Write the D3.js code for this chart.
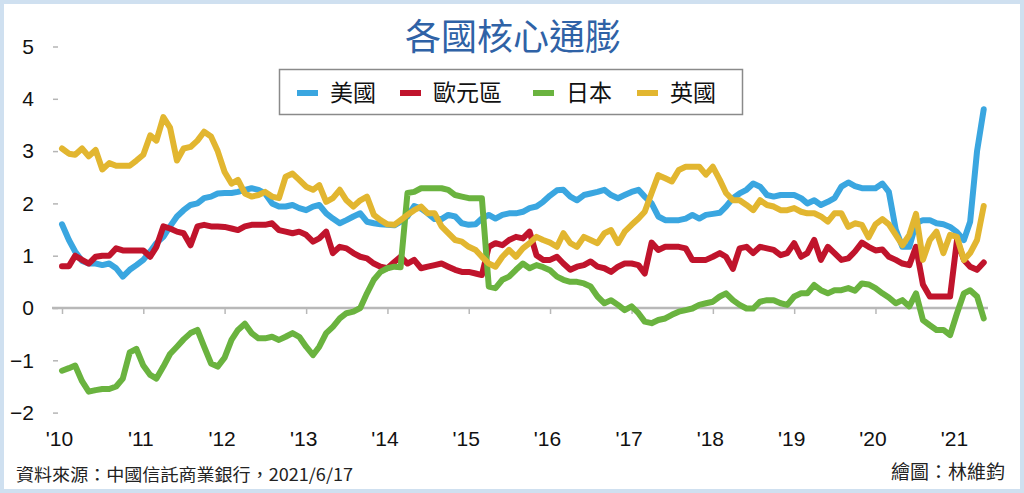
<!DOCTYPE html>
<html>
<head>
<meta charset="utf-8">
<script src="https://cdn.jsdelivr.net/npm/d3@7"></script>
<style>
  html, body { margin: 0; padding: 0; background: #fff; }
  svg { display: block; }
</style>
</head>
<body>
<svg id="chart"></svg>
<script>
// 畫布大小
var width = 1024;
var height = 493;

// 月份：2010/1 ~ 2021/5
var startMonth = new Date(2010, 0, 1);
var endMonth = new Date(2021, 5, 1);
var yearTicks = [2010, 2011, 2012, 2013, 2014, 2015, 2016, 2017, 2018, 2019, 2020, 2021];
var yTicks = [-2, -1, 0, 1, 2, 3, 4, 5];

var seriesNames = ["美國", "歐元區", "日本", "英國"];
var seriesColors = ["#3aa6e0", "#c0142c", "#6ab33f", "#e2b630"];

// 各國核心通膨 (%), 每月一筆
var usa = [
  1.6, 1.3, 1.08, 0.9, 0.85, 0.85, 0.82, 0.85, 0.76, 0.6, 0.73, 0.82, 0.92, 1.08, 1.24, 1.36, 1.56, 1.75, 1.87, 1.97, 2.0, 2.1, 2.13, 2.19, 2.2,
  2.2, 2.22, 2.26, 2.29, 2.26, 2.19, 2.0, 1.94, 1.94, 1.97, 1.91, 1.87, 1.94, 1.97, 1.81, 1.71, 1.62, 1.68, 1.75, 1.81, 1.65, 1.62, 1.6, 1.59, 1.58,
  1.65, 1.75, 1.95, 1.9, 1.81, 1.7, 1.7, 1.78, 1.75, 1.62, 1.59, 1.6, 1.71, 1.78, 1.71, 1.78, 1.81, 1.81, 1.84, 1.91, 1.94, 2.03, 2.15, 2.25, 2.26,
  2.13, 2.06, 2.16, 2.19, 2.22, 2.26, 2.16, 2.1, 2.16, 2.22, 2.26, 2.13, 2.0, 1.75, 1.68, 1.68, 1.68, 1.71, 1.78, 1.71, 1.78, 1.8, 1.82,
  1.94, 2.1, 2.19, 2.26, 2.38, 2.32, 2.16, 2.13, 2.16, 2.16, 2.16, 2.1, 2.0, 2.06, 1.97, 2.03, 2.1, 2.32, 2.4, 2.33, 2.29, 2.29, 2.29, 2.38, 2.22,
  1.5, 1.17, 1.17, 1.62, 1.68, 1.68, 1.62, 1.6, 1.55, 1.45, 1.3, 1.65, 3.0, 3.8
];
var euro = [
  0.8, 0.8, 1.0, 0.92, 0.85, 0.98, 1.0, 1.0, 1.14, 1.1, 1.1, 1.1, 1.1, 0.98, 1.17, 1.56, 1.52, 1.46, 1.43, 1.2, 1.56, 1.59, 1.56, 1.56, 1.55,
  1.52, 1.49, 1.56, 1.59, 1.59, 1.59, 1.62, 1.49, 1.46, 1.43, 1.46, 1.4, 1.27, 1.33, 1.46, 1.05, 1.17, 1.14, 1.05, 0.98, 0.95, 0.85, 0.79, 0.76, 0.88,
  0.98, 0.85, 0.92, 0.76, 0.79, 0.82, 0.85, 0.79, 0.73, 0.69, 0.69, 0.66, 0.63, 1.17, 1.24, 1.2, 1.3, 1.36, 1.33, 1.46, 1.01, 0.92, 0.92, 0.98, 0.85,
  0.73, 0.79, 0.82, 0.89, 0.79, 0.76, 0.69, 0.79, 0.85, 0.85, 0.82, 0.66, 1.25, 1.11, 1.17, 1.17, 1.17, 1.14, 0.92, 0.92, 0.92, 0.98, 1.05,
  0.98, 0.75, 1.14, 1.17, 1.05, 1.17, 1.14, 1.11, 1.01, 1.05, 1.24, 0.98, 1.05, 1.3, 0.92, 1.17, 1.05, 0.92, 0.95, 1.08, 1.25, 1.17, 1.1, 1.12, 0.98,
  0.92, 0.85, 0.82, 1.17, 0.45, 0.22, 0.22, 0.22, 0.22, 1.3, 0.92, 0.79, 0.73, 0.87
];
var japan = [
  -1.2, -1.15, -1.1, -1.4, -1.6, -1.57, -1.55, -1.55, -1.5, -1.35, -0.85, -0.78, -1.1, -1.28, -1.35, -1.12, -0.88, -0.74, -0.6, -0.48, -0.42, -0.74, -1.06, -1.12, -0.95,
  -0.61, -0.42, -0.3, -0.48, -0.58, -0.58, -0.55, -0.61, -0.55, -0.48, -0.55, -0.74, -0.9, -0.74, -0.48, -0.36, -0.2, -0.1, -0.07, 0.0, 0.28, 0.54, 0.69, 0.76, 0.79,
  0.78, 2.2, 2.22, 2.29, 2.29, 2.29, 2.29, 2.26, 2.16, 2.13, 2.1, 2.1, 2.1, 0.41, 0.38, 0.54, 0.6, 0.73, 0.85, 0.76, 0.82, 0.78, 0.72, 0.6, 0.54,
  0.5, 0.5, 0.47, 0.41, 0.22, 0.09, 0.15, 0.06, -0.04, 0.03, -0.1, -0.26, -0.29, -0.23, -0.2, -0.13, -0.07, -0.04, -0.01, 0.06, 0.09, 0.12, 0.22,
  0.28, 0.15, 0.06, -0.01, -0.01, 0.12, 0.15, 0.15, 0.09, 0.06, 0.22, 0.28, 0.28, 0.44, 0.34, 0.28, 0.34, 0.34, 0.38, 0.33, 0.47, 0.45, 0.38, 0.28, 0.2,
  0.09, 0.15, 0.03, 0.28, -0.23, -0.33, -0.42, -0.42, -0.52, -0.1, 0.28, 0.34, 0.22, -0.2
];
var uk = [
  3.05, 2.95, 2.93, 3.05, 2.9, 3.02, 2.65, 2.77, 2.72, 2.72, 2.72, 2.82, 2.93, 3.3, 3.2, 3.65, 3.45, 2.82, 3.05, 3.08, 3.2, 3.37, 3.28, 3.0, 2.6,
  2.38, 2.45, 2.19, 2.13, 2.16, 2.22, 2.13, 2.1, 2.51, 2.57, 2.45, 2.32, 2.26, 2.35, 2.03, 2.1, 2.26, 2.06, 1.94, 2.06, 2.13, 1.78, 1.68, 1.6, 1.59,
  1.68, 1.78, 1.87, 1.94, 1.81, 1.81, 1.56, 1.43, 1.3, 1.27, 1.17, 1.11, 0.98, 0.85, 0.79, 0.98, 1.11, 0.98, 1.14, 1.24, 1.36, 1.3, 1.25, 1.17, 1.43,
  1.24, 1.17, 1.36, 1.3, 1.24, 1.43, 1.49, 1.24, 1.46, 1.59, 1.71, 1.84, 2.2, 2.54, 2.48, 2.42, 2.64, 2.7, 2.7, 2.7, 2.55, 2.7, 2.45,
  2.2, 2.06, 2.06, 1.97, 1.87, 2.06, 1.97, 1.94, 1.87, 1.87, 1.91, 1.84, 1.81, 1.81, 1.75, 1.65, 1.81, 1.81, 1.55, 1.62, 1.59, 1.35, 1.6, 1.7, 1.6,
  1.4, 1.2, 1.4, 1.8, 0.92, 1.3, 1.46, 1.05, 1.4, 1.36, 0.92, 1.05, 1.3, 1.95
];

var allSeries = [usa, euro, japan, uk];
var months = d3.timeMonth.range(startMonth, endMonth);

var svg = d3.select("#chart")
  .attr("width", width)
  .attr("height", height)
  .style("font-family", "'Liberation Sans', Arial, 'Noto Sans CJK TC', sans-serif");

// 外框
svg.append("rect")
  .attr("x", 2).attr("y", 2)
  .attr("width", width - 4).attr("height", height - 4)
  .attr("fill", "#fff")
  .attr("stroke", "#cfe0f0")
  .attr("stroke-width", 4);

// 比例尺
var x = d3.scaleTime()
  .domain([new Date(2010, 0, 1), new Date(2021, 0, 1)])
  .range([62, 957]);
var y = d3.scaleLinear()
  .domain([-2, 5])
  .range([412.6, 46.5]);

// y 軸
var yAxis = svg.append("g")
  .attr("transform", "translate(58,0)")
  .call(d3.axisLeft(y).tickValues(yTicks).tickSize(5).tickPadding(19).tickFormat(d3.format("d")));
yAxis.select(".domain").remove();
yAxis.selectAll(".tick line").attr("stroke", "#b5b5b5").attr("stroke-width", 1.5);
yAxis.selectAll(".tick text")
  .attr("font-size", 21)
  .attr("fill", "#111");

// 0 軸線
svg.append("line")
  .attr("x1", 52).attr("x2", 988)
  .attr("y1", y(0)).attr("y2", y(0))
  .attr("stroke", "#b8b8b8")
  .attr("stroke-width", 2.5);

// 年份刻度
var xTickAxis = svg.append("g")
  .attr("transform", "translate(0," + y(0) + ")")
  .call(d3.axisBottom(x)
    .tickValues(yearTicks.map(function(d) { return new Date(d, 0, 1); }))
    .tickSize(6)
    .tickFormat(""));
xTickAxis.select(".domain").remove();
xTickAxis.selectAll(".tick line").attr("stroke", "#b8b8b8").attr("stroke-width", 1.5);

// 年份標籤
var xLabelAxis = svg.append("g")
  .attr("transform", "translate(-3,431)")
  .call(d3.axisBottom(x)
    .tickValues(yearTicks.map(function(d) { return new Date(d, 0, 1); }))
    .tickSize(0)
    .tickPadding(0)
    .tickFormat(function(d) { return "'" + String(d.getFullYear()).slice(2); }));
xLabelAxis.select(".domain").remove();
xLabelAxis.selectAll(".tick text")
  .attr("font-size", 21)
  .attr("fill", "#111");

// 折線
var line = d3.line()
  .x(function(d, i) { return x(months[i]); })
  .y(function(d) { return y(d); });

svg.append("g")
  .selectAll("path")
  .data(allSeries)
  .enter()
  .append("path")
  .attr("d", line)
  .attr("fill", "none")
  .attr("stroke", function(d, i) { return seriesColors[i]; })
  .attr("stroke-width", 6)
  .attr("stroke-linejoin", "round")
  .attr("stroke-linecap", "round");

// 標題
svg.append("text")
  .attr("x", 513)
  .attr("y", 50)
  .attr("text-anchor", "middle")
  .attr("font-family", "'Noto Sans CJK TC', sans-serif")
  .attr("font-size", 36)
  .attr("fill", "#2f62a6")
  .text("各國核心通膨");

// 圖例
svg.append("rect")
  .attr("x", 279.5).attr("y", 69.5)
  .attr("width", 463).attr("height", 45)
  .attr("fill", "#fff")
  .attr("stroke", "#8a8a8a")
  .attr("stroke-width", 1.5);

var legendX = [297, 400, 533, 637];
var lg = svg.append("g")
  .selectAll("g")
  .data(seriesNames)
  .enter()
  .append("g")
  .attr("transform", function(d, i) { return "translate(" + legendX[i] + ",93)"; });
lg.append("line")
  .attr("x1", 0).attr("x2", 21)
  .attr("y1", 0).attr("y2", 0)
  .attr("stroke", function(d, i) { return seriesColors[i]; })
  .attr("stroke-width", 6);
lg.append("text")
  .attr("x", 33)
  .attr("y", 0)
  .attr("dy", "0.36em")
  .attr("font-family", "'Noto Sans CJK TC', sans-serif")
  .attr("font-size", 23)
  .attr("fill", "#111")
  .text(function(d) { return d; });

// 資料來源
svg.append("text")
  .attr("x", 16)
  .attr("y", 481)
  .attr("font-family", "'Noto Sans CJK TC', sans-serif")
  .attr("font-size", 17)
  .attr("fill", "#222")
  .attr("textLength", 337)
  .attr("lengthAdjust", "spacingAndGlyphs")
  .text("資料來源：中國信託商業銀行，2021/6/17");

svg.append("text")
  .attr("x", 1005)
  .attr("y", 479)
  .attr("text-anchor", "end")
  .attr("font-family", "'Noto Sans CJK TC', sans-serif")
  .attr("font-size", 19)
  .attr("fill", "#222")
  .text("繪圖：林維鈞");
</script>
</body>
</html>
